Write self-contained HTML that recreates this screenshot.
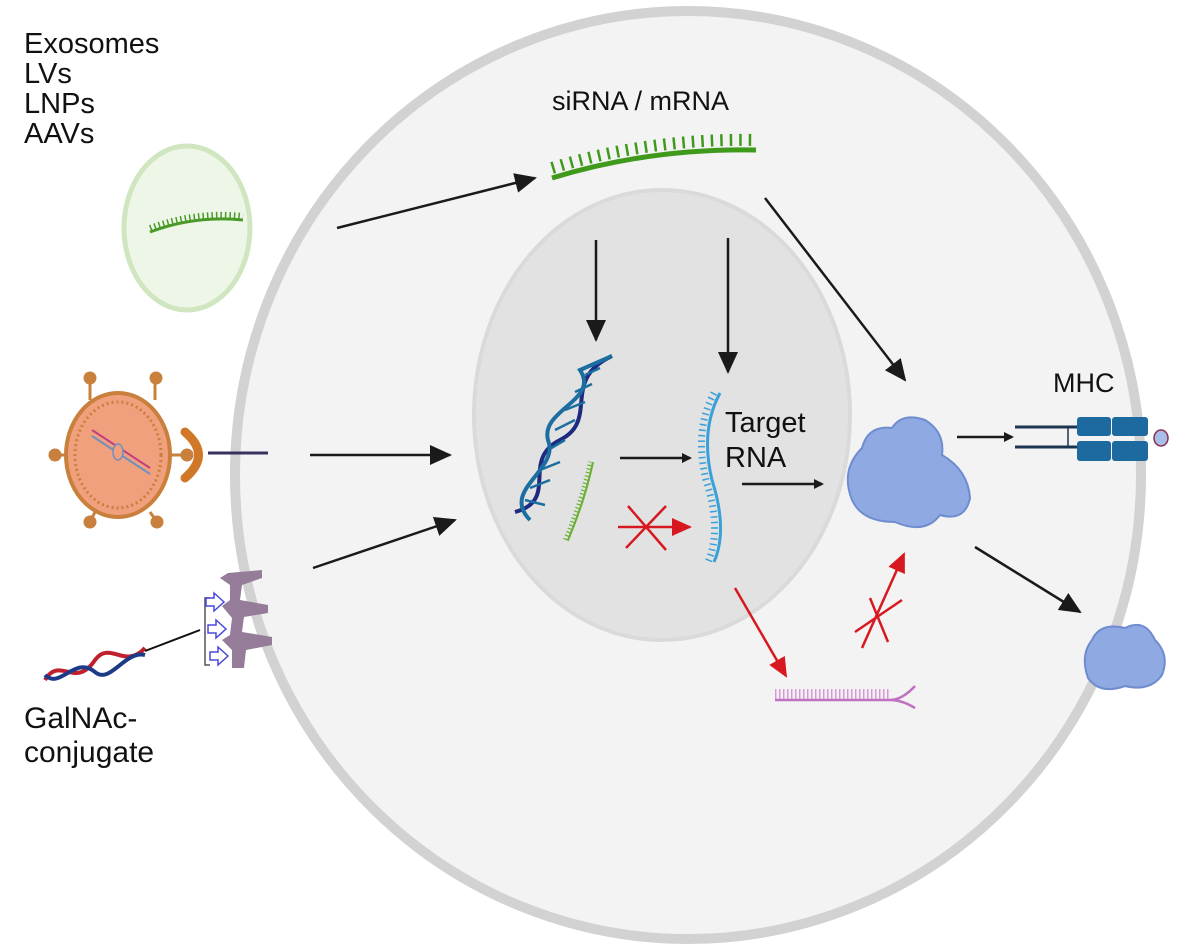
<!DOCTYPE html>
<html><head><style>
body{margin:0;background:#fff}
svg{display:block}
text{font-family:"Liberation Sans",sans-serif;fill:#111}
</style></head><body>
<svg width="1194" height="949" viewBox="0 0 1194 949" xmlns="http://www.w3.org/2000/svg">
<defs>
<marker id="ab" markerWidth="10" markerHeight="10" refX="8" refY="5" orient="auto" markerUnits="userSpaceOnUse" viewBox="0 0 10 10"><path d="M0,0 L10,5 L0,10z" fill="#1a1a1a"/></marker>
<marker id="abl" markerWidth="22" markerHeight="20" refX="20" refY="10" orient="auto" markerUnits="userSpaceOnUse"><path d="M0,0 L22,10 L0,20z" fill="#1a1a1a"/></marker>
<marker id="ar" markerWidth="20" markerHeight="18" refX="18" refY="9" orient="auto" markerUnits="userSpaceOnUse"><path d="M0,0 L20,9 L0,18z" fill="#d81820"/></marker>
</defs>
<ellipse cx="688" cy="475" rx="453" ry="464" fill="#f3f3f3" stroke="#d2d2d2" stroke-width="10"/>
<ellipse cx="662" cy="415" rx="188" ry="225" fill="#e2e2e2" stroke="#dadada" stroke-width="4"/>

<text x="24" y="53" font-size="29">Exosomes</text>
<text x="24" y="83" font-size="29">LVs</text>
<text x="24" y="113" font-size="29">LNPs</text>
<text x="24" y="143" font-size="29">AAVs</text>
<text x="552" y="110" font-size="27">siRNA / mRNA</text>
<text x="725" y="432" font-size="29">Target</text>
<text x="725" y="467" font-size="29">RNA</text>
<text x="1053" y="392" font-size="27">MHC</text>
<text x="24" y="728" font-size="30">GalNAc-</text>
<text x="24" y="762" font-size="30">conjugate</text>

<!-- vesicle -->
<ellipse cx="187" cy="228" rx="63" ry="82" fill="#eef6e8" stroke="#cfe6c0" stroke-width="5"/>
<path d="M150,232 Q195,215 243,220" stroke="#4a9a2a" stroke-width="3" fill="none"/>
<path d="M150,232 Q195,215 243,220" stroke="#4a9a2a" stroke-width="6" fill="none" stroke-dasharray="1.5 3" transform="translate(0,-4)"/>

<!-- siRNA strand -->
<path d="M552,178 Q650,148 756,150" stroke="#3f9a1c" stroke-width="5" fill="none"/>
<path d="M552,172 Q650,142 756,144" stroke="#3f9a1c" stroke-width="12" fill="none" stroke-dasharray="2.5 7" transform="translate(0,-4)"/>

<!-- black arrows -->
<g stroke="#1a1a1a" stroke-width="2.5" fill="none">
<line x1="337" y1="228" x2="535" y2="178" marker-end="url(#abl)"/>
<line x1="596" y1="240" x2="596" y2="340" marker-end="url(#abl)"/>
<line x1="728" y1="238" x2="728" y2="372" marker-end="url(#abl)"/>
<line x1="765" y1="198" x2="905" y2="380" marker-end="url(#abl)"/>
<line x1="310" y1="455" x2="450" y2="455" marker-end="url(#abl)"/>
<line x1="313" y1="568" x2="455" y2="520" marker-end="url(#abl)"/>
<line x1="620" y1="458" x2="690" y2="458" marker-end="url(#ab)"/>
<line x1="742" y1="484" x2="822" y2="484" marker-end="url(#ab)"/>
<line x1="957" y1="437" x2="1012" y2="437" marker-end="url(#ab)"/>
<line x1="975" y1="547" x2="1080" y2="612" marker-end="url(#abl)"/>
</g>

<!-- red arrows -->
<g stroke="#d81820" stroke-width="2.5" fill="none">
<line x1="618" y1="527" x2="690" y2="527" marker-end="url(#ar)"/>
<line x1="626" y1="548" x2="666" y2="506"/><line x1="628" y1="506" x2="666" y2="550"/>
<line x1="735" y1="588" x2="786" y2="676" marker-end="url(#ar)"/>
<line x1="862" y1="648" x2="904" y2="554" marker-end="url(#ar)"/>
<line x1="870" y1="598" x2="888" y2="642"/><line x1="855" y1="632" x2="902" y2="600"/>
</g>

<!-- DNA helix -->
<g fill="none" stroke-width="4">
<path d="M515,512 C560,500 520,460 560,440 C600,420 560,380 612,356" stroke="#1e2a80"/>
<path d="M530,520 C500,490 560,470 548,440 C540,410 600,400 580,370 L612,356" stroke="#1c6ea0"/>
<path d="M525,500 L545,505 M530,488 L550,480 M540,470 L560,462 M548,450 L565,440 M555,430 L575,420 M565,410 L585,402 M575,392 L592,384 M585,375 L600,368" stroke="#1c6ea0" stroke-width="2.5"/>
</g>
<path d="M568,540 Q585,500 593,462" stroke="#6ab033" stroke-width="2" fill="none"/>
<path d="M566,540 Q583,500 591,462" stroke="#6ab033" stroke-width="6" fill="none" stroke-dasharray="1.2 2.5"/>

<!-- target RNA -->
<path d="M720,393 Q700,430 712,480 Q728,530 714,562" stroke="#3aa0d8" stroke-width="3" fill="none"/>
<path d="M714,393 Q694,430 706,480 Q722,530 708,562" stroke="#3aa0d8" stroke-width="7" fill="none" stroke-dasharray="1.5 4"/>

<!-- pink RNA -->
<path d="M775,700 L890,700 Q902,700 915,686 M890,700 Q902,700 915,708" stroke="#c070c0" stroke-width="2.5" fill="none"/>
<line x1="775" y1="694" x2="890" y2="694" stroke="#d898d8" stroke-width="10" stroke-dasharray="1.5 2.5"/>

<!-- proteins -->
<g fill="#8fa9e2" stroke="#6f8cd0" stroke-width="2">
<path d="M862,448 Q868,425 892,428 Q902,412 925,420 Q945,432 942,455 Q968,470 970,498 Q965,522 940,515 Q925,535 895,522 Q862,522 852,500 Q840,470 862,448z"/>
<path d="M1092,640 Q1100,622 1125,628 Q1145,618 1155,640 Q1170,655 1162,675 Q1150,692 1125,686 Q1100,695 1088,678 Q1080,655 1092,640z"/>
</g>

<!-- MHC -->
<g stroke="#1c3550" stroke-width="3">
<line x1="1015" y1="427" x2="1078" y2="427"/><line x1="1015" y1="447" x2="1078" y2="447"/>
<line x1="1068" y1="427" x2="1068" y2="447" stroke-width="1.5"/>
</g>
<rect x="1077" y="417" width="34" height="19" rx="3" fill="#1d6aa0"/>
<rect x="1112" y="417" width="36" height="19" rx="3" fill="#1d6aa0"/>
<rect x="1077" y="441" width="34" height="20" rx="3" fill="#1d6aa0"/>
<rect x="1112" y="441" width="36" height="20" rx="3" fill="#1d6aa0"/>
<ellipse cx="1161" cy="438" rx="7" ry="8" fill="#a8bde8" stroke="#8a3050" stroke-width="1.5"/>

<!-- virus -->
<g stroke="#c8803c" stroke-width="3" fill="#c8803c">
<line x1="90" y1="400" x2="90" y2="380"/><circle cx="90" cy="378" r="5"/>
<line x1="155" y1="400" x2="155" y2="380"/><circle cx="156" cy="378" r="5"/>
<line x1="70" y1="455" x2="56" y2="455"/><circle cx="55" cy="455" r="5"/>
<line x1="165" y1="455" x2="185" y2="455"/><circle cx="187" cy="455" r="5"/>
<line x1="95" y1="512" x2="90" y2="522"/><circle cx="90" cy="522" r="5"/>
<line x1="150" y1="512" x2="157" y2="522"/><circle cx="157" cy="522" r="5"/>
</g>
<ellipse cx="118" cy="455" rx="52" ry="62" fill="#f0a07c" stroke="#c8803c" stroke-width="4"/>
<ellipse cx="118" cy="455" rx="43" ry="53" fill="none" stroke="#c8803c" stroke-width="3" stroke-dasharray="2 3"/>
<line x1="92" y1="430" x2="150" y2="468" stroke="#c04080" stroke-width="2"/>
<line x1="92" y1="436" x2="150" y2="474" stroke="#7090c0" stroke-width="2"/>
<ellipse cx="118" cy="452" rx="5" ry="8" fill="#f0a07c" stroke="#7090c0" stroke-width="1.5"/>
<path d="M185,432 Q212,455 185,478" stroke="#d07828" stroke-width="9" fill="none" stroke-linecap="round"/>
<line x1="208" y1="453" x2="268" y2="453" stroke="#3a3060" stroke-width="3"/>

<!-- GalNAc -->
<g fill="none" stroke-width="4">
<path d="M45,680 C60,655 75,690 95,660 C110,640 125,670 145,648" stroke="#c0202c"/>
<path d="M45,675 C60,690 75,655 95,672 C110,685 125,650 145,655" stroke="#1c3a88"/>
</g>
<line x1="145" y1="651" x2="200" y2="630" stroke="#111" stroke-width="2"/>
<path d="M210,598 L205,598 L205,665 L210,665" stroke="#555" stroke-width="1.5" fill="none"/>
<g fill="#957c98">
<path d="M228,573 L262,570 L262,578 L242,585 L240,600 L268,605 L268,613 L244,617 L242,632 L272,637 L272,645 L246,650 L244,668 L232,668 L232,650 L222,640 L230,635 L232,618 L222,606 L230,600 L230,585 L220,578z"/>
</g>
<g fill="none" stroke="#4a48e0" stroke-width="1.5">
<path d="M206,598 l8,0 l0,-5 l10,9 l-10,9 l0,-5 l-8,0z"/>
<path d="M208,625 l8,0 l0,-5 l10,9 l-10,9 l0,-5 l-8,0z"/>
<path d="M210,652 l8,0 l0,-5 l10,9 l-10,9 l0,-5 l-8,0z"/>
</g>
</svg>
</body></html>
